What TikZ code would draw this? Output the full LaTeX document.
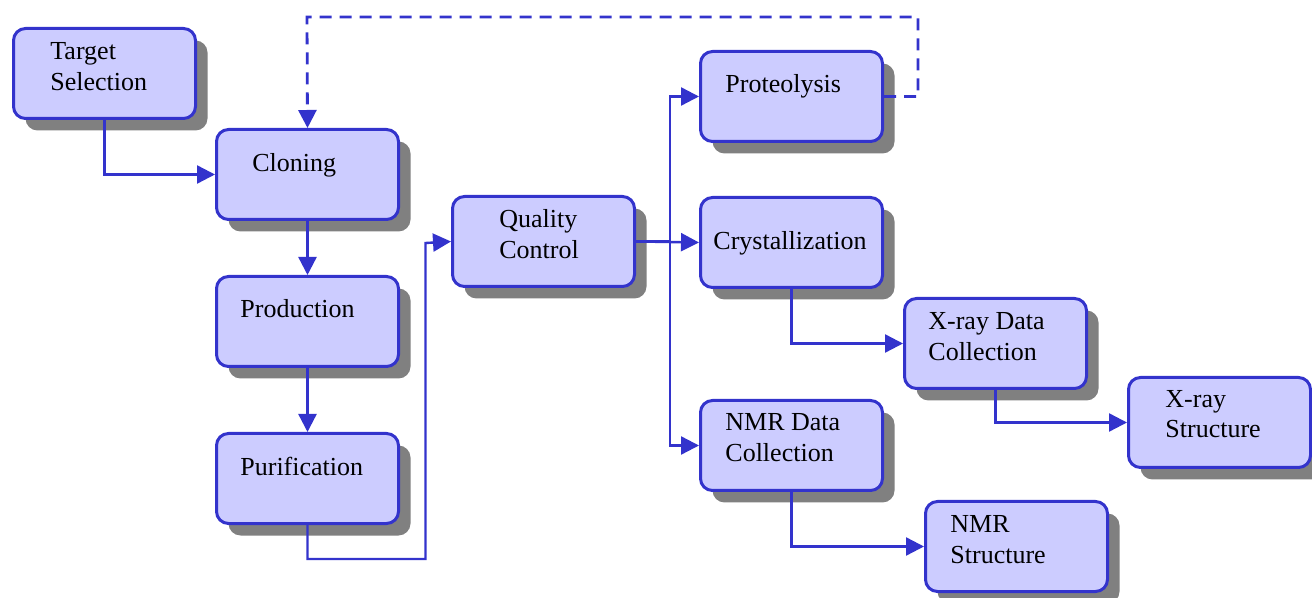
\documentclass[tikz,border=0pt]{standalone}
\usepackage{fontspec}
\setmainfont{Liberation Serif}
\usetikzlibrary{arrows.meta,shadows}

\definecolor{stagefill}{HTML}{CCCCFF}
\definecolor{stageblue}{HTML}{3333CC}

\tikzset{
  stagebox/.style={draw=stageblue, fill=stagefill, line width=1.5pt, rounded corners=6pt,
    anchor=north west, minimum width=91pt, minimum height=45pt, inner sep=0pt,
    drop shadow={shadow xshift=6pt, shadow yshift=-6pt, fill=black!50, opacity=1}},
  stagetext/.style={anchor=base west, align=left, inner sep=0pt,
    font=\fontsize{13}{15.5}\selectfont},
  flow/.style={draw=stageblue, line width=1.2pt, -{Triangle[length=9pt,width=9pt]}},
  loopback/.style={flow, line width=1.4pt, dash pattern=on 6pt off 4pt},
}

% name, x, y, text, text dx, text dy (to the last baseline)
\NewDocumentCommand{\stage}{mmmmO{26}O{44}}{%
\node[stagebox] (#1) at (#2,#3) {};%
\node[stagetext] (#1-txt) at ([shift={(#5,#6)}]#1.north west) {#4};%
}

\begin{document}
\begin{tikzpicture}[x=0.5pt, y=-0.5pt]
        \useasboundingbox (0,0) rectangle (1312,598);

        % left column
        \stage{target}{12}{27}{Target\\Selection}[38][64]
        \stage{cloning}{215}{128}{Cloning}[37][44]
        \stage{production}{215}{275}{Production}[25][43]
        \stage{purification}{215}{432}{Purification}[25][44]

        % middle
        \stage{quality}{451}{195}{Quality\\Control}[48][64]
        \stage{proteolysis}{699}{50}{Proteolysis}[26][43]
        \stage{crystal}{699}{196}{Crystallization}[14][54]
        \stage{nmrdata}{699}{399}{NMR Data\\Collection}[26][63]

        % right
        \stage{xraydata}{903}{297}{X-ray Data\\Collection}[25][64]
        \stage{xraystruct}{1127}{376}{X-ray\\Structure}[38][62]
        \stage{nmrstruct}{924}{500}{NMR\\Structure}[26][63]

        % Connectors.
        \draw[flow] (target.south) |- (cloning.west);
        \draw[flow] (cloning.south) -- (production.north);
        \draw[flow] (production.south) -- (purification.north);
        \draw[flow] (purification.south) -- ++(0,34) -| ++(118,-316) -- (quality.west);
        \draw[flow] (quality.east) -- (crystal.west);
        \draw[flow] (quality.east) -- ++(34,0) |- (proteolysis.west);
        \draw[flow] (quality.east) -- ++(34,0) |- (nmrdata.west);
        \draw[flow] (crystal.south) |- (xraydata.west);
        \draw[flow] (xraydata.south) |- (xraystruct.west);
        \draw[flow] (nmrdata.south) |- (nmrstruct.west);

        % Feedback.
        \draw[loopback] (proteolysis.east) -- ++(34,0) |- (307,17) -- (cloning.north);
    \end{tikzpicture}
\end{document}
